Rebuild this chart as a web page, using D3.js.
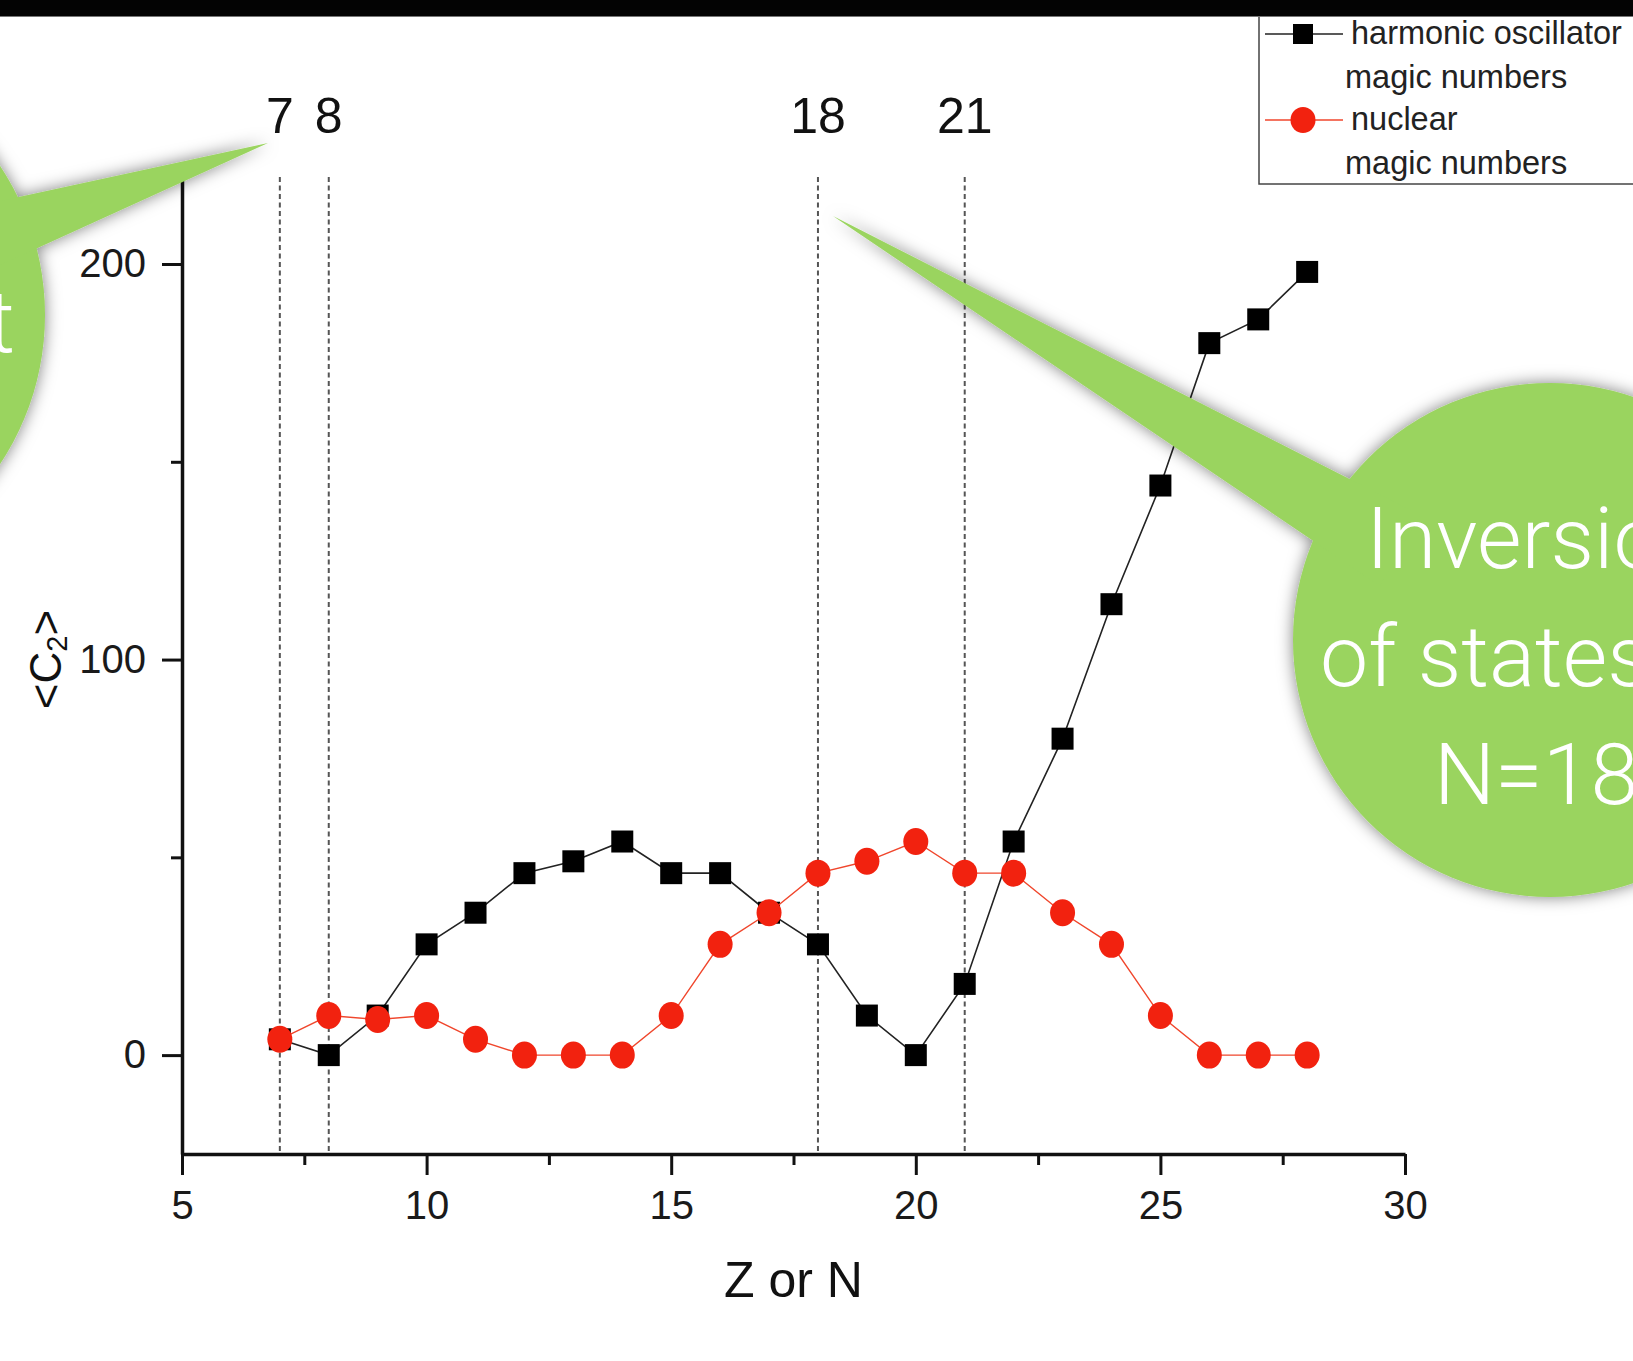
<!DOCTYPE html>
<html>
<head>
<meta charset="utf-8">
<script src="https://cdn.jsdelivr.net/npm/d3@7"></script>
<style>
  body { margin: 0; background: #fff; overflow: hidden; }
  text { font-family: "Liberation Sans", Arial, Helvetica, sans-serif; }
</style>
</head>
<body>
<div id="chart"></div>
<script>
var width = 1633, height = 1361;

// data
var zValues = [7, 8, 9, 10, 11, 12, 13, 14, 15, 16, 17, 18, 19, 20, 21, 22, 23, 24, 25, 26, 27, 28];
var harmonic = [4, 0, 10, 28, 36, 46, 49, 54, 46, 46, 36, 28, 10, 0, 18, 54, 80, 114, 144, 180, 186, 198];
var nuclear = [4, 10, 9, 10, 4, 0, 0, 0, 10, 28, 36, 46, 49, 54, 46, 46, 36, 28, 10, 0, 0, 0];
var magicLines = [7, 8, 18, 21];
var xMajor = [5, 10, 15, 20, 25, 30];
var xMinor = [7.5, 12.5, 17.5, 22.5, 27.5];
var yMajor = [0, 100, 200];
var yMinor = [50, 150];
var legendRows = [
  {name: 'harmonic oscillator', sub: 'magic numbers', color: '#000', shape: 'square'},
  {name: 'nuclear', sub: 'magic numbers', color: '#f2220f', shape: 'circle'}
];
var rightCallout = ['Inversion', 'of states', 'N=18'];

var x = d3.scaleLinear().domain([5, 30]).range([182, 1405]);
var y = d3.scaleLinear().domain([-25, 222]).range([1154, 177]);

var svg = d3.select('#chart').append('svg')
  .attr('width', width)
  .attr('height', height);

svg.append('rect').attr('width', width).attr('height', height).attr('fill', '#fff');

var defs = svg.append('defs');
defs.append('filter').attr('id', 'shadow')
  .attr('x', '-30%').attr('y', '-30%').attr('width', '160%').attr('height', '160%')
  .append('feDropShadow')
    .attr('dx', 0).attr('dy', 0).attr('stdDeviation', 8)
    .attr('flood-color', '#000').attr('flood-opacity', 0.5);

// dashed magic number lines
svg.selectAll('.magic')
  .data(magicLines).enter()
  .append('line')
    .attr('x1', function(d) {return x(d);})
    .attr('x2', function(d) {return x(d);})
    .attr('y1', y(222))
    .attr('y2', y(-25))
    .attr('stroke', '#555')
    .attr('stroke-width', 2)
    .attr('stroke-dasharray', '5,3.5');

svg.selectAll('.magicLabel')
  .data(magicLines).enter()
  .append('text')
    .attr('x', function(d) {return x(d);})
    .attr('y', 133)
    .attr('text-anchor', 'middle')
    .attr('font-size', 50)
    .attr('fill', '#111')
    .text(function(d) {return d;});

// axes
function styleAxis(g) {
  g.attr('font-size', 40).attr('font-family', '"Liberation Sans", Arial, sans-serif');
  g.select('.domain').attr('stroke', '#111').attr('stroke-width', 3.5);
  g.selectAll('.tick line').attr('stroke', '#111').attr('stroke-width', 3);
  g.selectAll('.tick text').attr('fill', '#1a1a1a');
}

var xAxisG = svg.append('g')
  .attr('transform', 'translate(0,' + y(-25) + ')')
  .call(d3.axisBottom(x).tickValues(xMajor).tickSize(21).tickSizeOuter(0).tickPadding(16));
styleAxis(xAxisG);
var xMinorG = svg.append('g')
  .attr('transform', 'translate(0,' + y(-25) + ')')
  .call(d3.axisBottom(x).tickValues(xMinor).tickSize(11).tickSizeOuter(0).tickFormat(''));
styleAxis(xMinorG);
xMinorG.select('.domain').remove();

var yAxisG = svg.append('g')
  .attr('transform', 'translate(' + x(5) + ',0)')
  .call(d3.axisLeft(y).tickValues(yMajor).tickSize(20).tickSizeOuter(0).tickPadding(16));
styleAxis(yAxisG);
var yMinorG = svg.append('g')
  .attr('transform', 'translate(' + x(5) + ',0)')
  .call(d3.axisLeft(y).tickValues(yMinor).tickSize(11).tickSizeOuter(0).tickFormat(''));
styleAxis(yMinorG);
yMinorG.select('.domain').remove();

svg.append('text')
  .attr('x', (x(5) + x(30)) / 2)
  .attr('y', 1297)
  .attr('text-anchor', 'middle')
  .attr('font-size', 50)
  .attr('fill', '#111')
  .text('Z or N');

var yTitle = svg.append('text')
  .attr('transform', 'translate(61,' + y(100) + ') rotate(-90)')
  .attr('text-anchor', 'middle')
  .attr('font-size', 44)
  .attr('fill', '#111');
yTitle.append('tspan').text('<C');
yTitle.append('tspan').attr('font-size', 29).attr('dy', 6).text('2');
yTitle.append('tspan').attr('dy', -6).text('>');

// series
var line = d3.line()
  .x(function(d) {return x(d[0]);})
  .y(function(d) {return y(d[1]);});

var hoPts = zValues.map(function(z, i) {return [z, harmonic[i]];});
var nuPts = zValues.map(function(z, i) {return [z, nuclear[i]];});

svg.append('path').datum(hoPts)
  .attr('d', line).attr('fill', 'none')
  .attr('stroke', '#222').attr('stroke-width', 1.6);
svg.selectAll('.sq')
  .data(hoPts).enter()
  .append('rect')
    .attr('x', function(d) {return x(d[0]) - 11;})
    .attr('y', function(d) {return y(d[1]) - 11;})
    .attr('width', 22).attr('height', 22)
    .attr('fill', '#000');

svg.append('path').datum(nuPts)
  .attr('d', line).attr('fill', 'none')
  .attr('stroke', '#f0462c').attr('stroke-width', 1.4);
svg.selectAll('.dot')
  .data(nuPts).enter()
  .append('ellipse')
    .attr('cx', function(d) {return x(d[0]);})
    .attr('cy', function(d) {return y(d[1]);})
    .attr('rx', 12.5).attr('ry', 13.5)
    .attr('fill', '#f2220f');

// callout bubbles
var green = '#9ad45f';
var calloutFont = 'Roboto, "Open Sans", sans-serif';
var leftBubble = svg.append('g').attr('filter', 'url(#shadow)');
leftBubble.append('circle').attr('cx', -225).attr('cy', 315).attr('r', 270).attr('fill', green);
leftBubble.append('polygon')
  .attr('points', '268,143 -50,212 -50,288')
  .attr('fill', green);
svg.append('text')
  .attr('x', 15).attr('y', 352)
  .attr('text-anchor', 'end')
  .attr('font-size', 88)
  .attr('font-weight', 300)
  .style('font-family', calloutFont)
  .attr('fill', '#fff')
  .text('t');

var rightBubble = svg.append('g').attr('filter', 'url(#shadow)');
rightBubble.append('circle').attr('cx', 1550).attr('cy', 640).attr('r', 257).attr('fill', green);
rightBubble.append('polygon')
  .attr('points', '833,216 1420,515 1380,586')
  .attr('fill', green);
var lineStarts = [1366, 1320, 1434];
svg.selectAll('.callText')
  .data(rightCallout).enter()
  .append('text')
    .attr('x', function(d, i) {return lineStarts[i];})
    .attr('y', function(d, i) {return 568 + i * 118;})
    .attr('font-size', 86)
    .attr('font-weight', 300)
    .style('font-family', calloutFont)
    .attr('fill', '#fff')
    .text(function(d) {return d;});

// legend
var legend = svg.append('g');
legend.append('rect')
  .attr('x', 1259).attr('y', -5)
  .attr('width', 500).attr('height', 189)
  .attr('fill', '#fff')
  .attr('stroke', '#444').attr('stroke-width', 1.5);
var rows = legend.selectAll('.row')
  .data(legendRows).enter()
  .append('g')
    .attr('transform', function(d, i) {return 'translate(0,' + (34 + i * 86) + ')';});
rows.append('line')
  .attr('x1', 1265).attr('x2', 1343)
  .attr('stroke', function(d) {return d.shape === 'square' ? '#222' : '#f0462c';})
  .attr('stroke-width', 1.5);
rows.filter(function(d) {return d.shape === 'square';})
  .append('rect').attr('x', 1293).attr('y', -10).attr('width', 20).attr('height', 20)
  .attr('fill', function(d) {return d.color;});
rows.filter(function(d) {return d.shape === 'circle';})
  .append('ellipse').attr('cx', 1303).attr('rx', 12.5).attr('ry', 13)
  .attr('fill', function(d) {return d.color;});
rows.append('text')
  .attr('x', 1351).attr('y', 10)
  .attr('font-size', 32.5).attr('fill', '#222')
  .text(function(d) {return d.name;});
rows.append('text')
  .attr('x', 1345).attr('y', 54)
  .attr('font-size', 32.5).attr('fill', '#222')
  .text(function(d) {return d.sub;});

// dark strip along the top
svg.append('rect').attr('width', width).attr('height', 17).attr('fill', '#030303');
svg.append('line').attr('x1', 0).attr('x2', width).attr('y1', 16.5).attr('y2', 16.5)
  .attr('stroke', '#777').attr('stroke-width', 1);
</script>
</body>
</html>
